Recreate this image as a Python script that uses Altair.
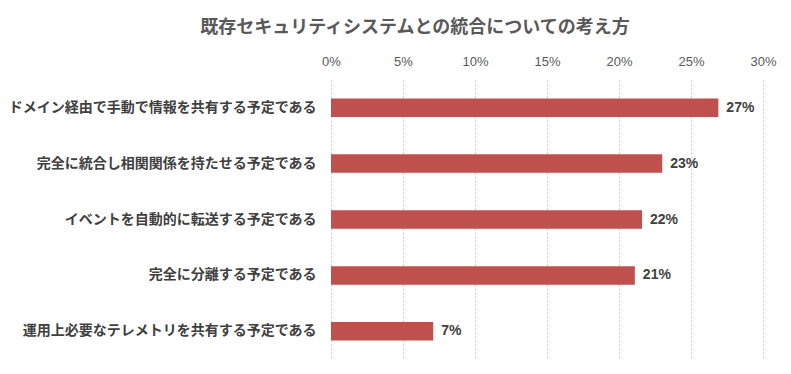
import altair as alt
import pandas as pd

categories = [
    "ドメイン経由で手動で情報を共有する予定である",
    "完全に統合し相関関係を持たせる予定である",
    "イベントを自動的に転送する予定である",
    "完全に分離する予定である",
    "運用上必要なテレメトリを共有する予定である",
]
values = [0.269, 0.230, 0.216, 0.211, 0.071]
x_ticks = [0, 0.05, 0.10, 0.15, 0.20, 0.25, 0.30]

df = pd.DataFrame({"cat": categories, "val": values})

JP = "Noto Sans CJK JP"
NUM = "Liberation Sans"

base = alt.Chart(df).encode(
    y=alt.Y("cat:N", sort=categories, title=None,
            scale=alt.Scale(paddingInner=0.67, paddingOuter=0.33),
            axis=alt.Axis(labelFont=JP, labelFontSize=14, labelFontWeight="bold",
                          labelColor="#404040", ticks=False, domain=False,
                          labelPadding=15, labelLimit=400)),
    x=alt.X("val:Q", title=None,
            scale=alt.Scale(domain=[0, 0.30], nice=False),
            axis=alt.Axis(orient="top", format=".0%", values=x_ticks,
                          labelFont=NUM, labelFontSize=13, labelColor="#595959",
                          labelFlush=False,
                          ticks=False, domain=False, labelPadding=12,
                          grid=True, gridColor="#c8c8c8", gridDash=[2, 2])),
)

bars = base.mark_bar(color="#c0504d")

labels = base.mark_text(align="left", baseline="middle", dx=8,
                        font=NUM, fontSize=14, fontWeight="bold",
                        color="#404040").encode(
    text=alt.Text("val:Q", format=".0%"),
)

chart = (bars + labels).properties(
    width=432, height=279,
    background="white",
    title=alt.TitleParams("既存セキュリティシステムとの統合についての考え方",
                          font=JP, fontSize=18, fontWeight="bold",
                          color="#595959", anchor="middle", dx=-132, offset=18),
    padding={"left": 323, "top": 72, "right": 20, "bottom": 7},
    autosize=alt.AutoSizeParams(type="none"),
).configure_view(strokeWidth=0, stroke="transparent")

chart.save("out.html", embed_options={"renderer": "svg", "actions": False})
